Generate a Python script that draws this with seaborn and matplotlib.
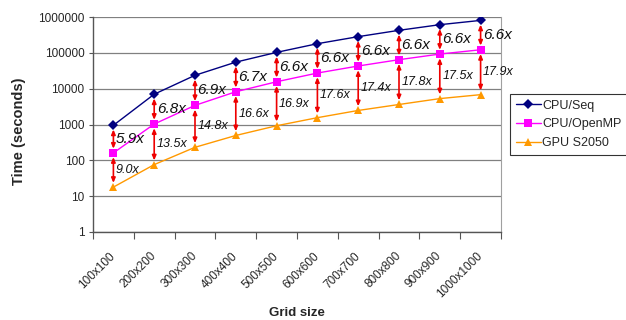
import numpy as np
import pandas as pd
import matplotlib
matplotlib.use("Agg")
import matplotlib.pyplot as plt
from matplotlib.ticker import FixedLocator, NullFormatter, FixedFormatter
import seaborn as sns

# data
grid_sizes = ["100x100", "200x200", "300x300", "400x400", "500x500",
              "600x600", "700x700", "800x800", "900x900", "1000x1000"]
cpu_seq = [950, 7000, 23600, 55000, 103000, 180000, 283000, 425000, 610000, 804000]
cpu_omp = [161, 1030, 3420, 8200, 15600, 27300, 42900, 64400, 92400, 121800]
gpu_s2050 = [17.9, 76, 231, 494, 923, 1551, 2466, 3618, 5280, 6804]
omp_speedup = ["5.9x", "6.8x", "6.9x", "6.7x", "6.6x", "6.6x", "6.6x", "6.6x", "6.6x", "6.6x"]
gpu_speedup = ["9.0x", "13.5x", "14.8x", "16.6x", "16.9x", "17.6x", "17.4x", "17.8x", "17.5x", "17.9x"]

series_names = ["CPU/Seq", "CPU/OpenMP", "GPU S2050"]
colors = {"CPU/Seq": "#000080", "CPU/OpenMP": "#FF00FF", "GPU S2050": "#FF9900"}
markers = {"CPU/Seq": "D", "CPU/OpenMP": "s", "GPU S2050": "^"}

pos = np.arange(len(grid_sizes))
df = pd.DataFrame({
    "pos": np.tile(pos, 3),
    "time": cpu_seq + cpu_omp + gpu_s2050,
    "series": np.repeat(series_names, len(grid_sizes)),
})

sns.set_style("white")
plt.rcParams['font.family'] = ['Liberation Sans', 'DejaVu Sans']

fig = plt.figure(figsize=(6.26, 3.2), dpi=100)
ax = fig.add_axes([93 / 626, 88 / 320, 408 / 626, 215 / 320])

sns.lineplot(data=df, x="pos", y="time", hue="series", style="series",
             palette=colors, markers=markers, dashes=False, ax=ax,
             linewidth=1.0, markeredgewidth=0, markersize=5.5)

ax.set_yscale("log")
ax.set_ylim(1, 1e6)
ax.set_xlim(-0.5, len(grid_sizes) - 0.5)

# y axis
yt = [10 ** k for k in range(7)]
ax.yaxis.set_major_locator(FixedLocator(yt))
ax.yaxis.set_major_formatter(FixedFormatter([str(v) for v in yt]))
ax.yaxis.set_minor_locator(FixedLocator([]))
ax.tick_params(axis="y", which="major", length=3, width=0.8, color="#555555",
               labelsize=8.5, pad=3, left=True)
ax.grid(axis="y", color="#808080", linewidth=0.9)
ax.grid(axis="x", visible=False)

# x axis: ticks at category boundaries, labels at centres
ax.xaxis.set_major_locator(FixedLocator(np.arange(-0.5, len(grid_sizes), 1.0)))
ax.xaxis.set_major_formatter(NullFormatter())
ax.xaxis.set_minor_locator(FixedLocator(pos))
ax.xaxis.set_minor_formatter(FixedFormatter(grid_sizes))
ax.tick_params(axis="x", which="major", length=5, width=0.8, color="#555555", bottom=True)
ax.tick_params(axis="x", which="minor", length=0, labelsize=8.5, pad=16)
for lab in ax.get_xticklabels(minor=True):
    lab.set_rotation(45)
    lab.set_ha("right")
    lab.set_va("center")
    lab.set_rotation_mode("anchor")

for side in ["left", "bottom"]:
    ax.spines[side].set_color("#555555")
    ax.spines[side].set_linewidth(1.0)
ax.spines["right"].set_color("#a0a0a0")
ax.spines["top"].set_visible(False)

ax.set_xlabel("Grid size", fontsize=9.5, fontweight="bold")
ax.xaxis.set_label_coords(0.5, -0.35)
ax.set_ylabel("Time (seconds)", fontsize=10.5, fontweight="bold")
ax.yaxis.set_label_coords(-0.165, 0.47)

# speedup arrows and labels
for i in range(len(grid_sizes)):
    for hi, lo, lab, fs in [(cpu_seq[i], cpu_omp[i], omp_speedup[i], 11),
                            (cpu_omp[i], gpu_s2050[i], gpu_speedup[i], 9)]:
        ax.annotate("", xy=(i, lo), xytext=(i, hi),
                    arrowprops=dict(arrowstyle="<|-|>,head_length=0.7,head_width=0.3",
                                    color="#ee0000", lw=1.2,
                                    shrinkA=3, shrinkB=3, mutation_scale=4))
        ax.text(i + 0.06, np.sqrt(hi * lo), lab, fontsize=fs, style="italic",
                ha="left", va="center", color="#111111")

handles, labels = ax.get_legend_handles_labels()
ax.legend_.remove()
leg = fig.legend(handles, labels, loc="center left",
                 bbox_to_anchor=(510 / 626, (320 - 124.5) / 320), borderaxespad=0,
                 frameon=True, fancybox=False, edgecolor="black", fontsize=9,
                 handlelength=2.0, borderpad=0.45, labelspacing=0.55, handletextpad=0.15)
leg.get_frame().set_linewidth(0.8)

fig.savefig("out.png", dpi=100)
